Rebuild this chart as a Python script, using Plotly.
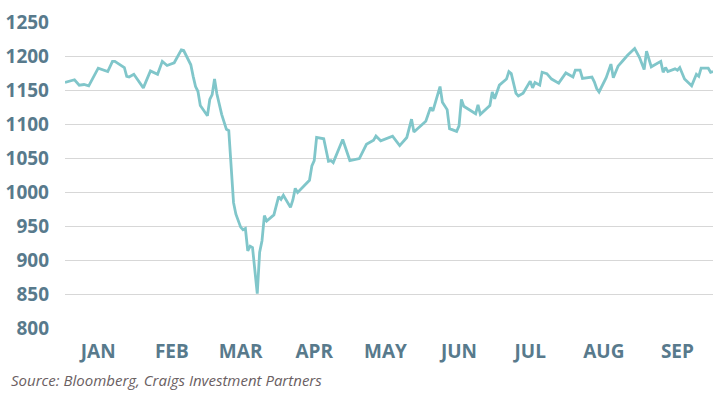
import pandas as pd
import plotly.graph_objects as go

# Day offsets from 1 Jan 2020 and index values
days = [0, 4, 6, 8, 10, 14, 18, 20, 21, 25, 26, 27, 29, 33, 36, 39, 41, 43, 46, 49,
        50, 53, 54, 55, 56, 57, 60, 61, 62, 63, 64, 66, 68, 69, 71, 72, 74, 75, 76, 77,
        78, 79, 81, 82, 83, 84, 85, 88, 90, 91, 92, 95, 96, 97, 98, 103, 104, 105, 106, 109,
        111, 112, 113, 117, 120, 124, 127, 130, 131, 133, 138, 141, 144, 146, 147, 152, 154, 155, 158, 159,
        161, 162, 165, 166, 167, 168, 173, 174, 175, 179, 180, 181, 183, 186, 187, 188, 190, 191, 193, 194,
        196, 197, 198, 200, 201, 203, 205, 208, 211, 214, 215, 217, 218, 222, 223, 224, 225, 228, 230, 231,
        233, 235, 237, 240, 242, 244, 245, 247, 251, 252, 253, 254, 257, 258, 259, 261, 264, 266, 267, 268,
        271, 272, 273]
values = [1162, 1166, 1158, 1159, 1157, 1183, 1178, 1193, 1193, 1184, 1171, 1170, 1174, 1154, 1179, 1174, 1193, 1187, 1191, 1210,
          1209, 1188, 1171, 1156, 1149, 1128, 1113, 1137, 1144, 1167, 1145, 1115, 1093, 1091, 985, 968, 949, 945, 947, 914,
          921, 919, 851, 912, 929, 966, 958, 967, 994, 990, 996, 978, 989, 1006, 1000, 1018, 1039, 1047, 1081, 1079,
          1046, 1047, 1044, 1078, 1047, 1050, 1071, 1077, 1083, 1076, 1083, 1069, 1081, 1108, 1089, 1105, 1125, 1120, 1156, 1133,
          1122, 1094, 1090, 1098, 1137, 1127, 1116, 1129, 1115, 1128, 1148, 1138, 1158, 1167, 1178, 1175, 1146, 1142, 1146, 1152,
          1164, 1154, 1162, 1158, 1177, 1175, 1167, 1161, 1176, 1170, 1180, 1180, 1168, 1170, 1163, 1153, 1148, 1169, 1189, 1169,
          1186, 1194, 1202, 1212, 1199, 1181, 1208, 1185, 1193, 1177, 1184, 1178, 1182, 1180, 1184, 1167, 1157, 1174, 1171, 1183,
          1183, 1177, 1178]

month_ticks = ["2020-01-15", "2020-02-15", "2020-03-15", "2020-04-15", "2020-05-15",
               "2020-06-15", "2020-07-15", "2020-08-15", "2020-09-15"]
month_labels = ["JAN", "FEB", "MAR", "APR", "MAY", "JUN", "JUL", "AUG", "SEP"]
y_ticks = [800, 850, 900, 950, 1000, 1050, 1100, 1150, 1200, 1250]

dates = pd.Timestamp("2020-01-01") + pd.to_timedelta(days, unit="D")

label_color = "#587a8c"

fig = go.Figure()
fig.add_trace(go.Scatter(
    x=dates, y=values, mode="lines",
    line=dict(color="#80c6ca", width=2.8),
    hoverinfo="skip", showlegend=False,
))

fig.update_layout(
    width=720, height=406,
    margin=dict(l=65, r=7, t=22, b=77),
    plot_bgcolor="white", paper_bgcolor="white",
    font=dict(family="Open Sans", color=label_color),
    xaxis=dict(
        range=["2020-01-01", "2020-09-30"],
        tickmode="array", tickvals=month_ticks, ticktext=month_labels,
        showgrid=False, zeroline=False, showline=False,
        ticks="", ticklabelstandoff=9,
        tickfont=dict(family="Open Sans", size=19, color=label_color, weight="bold"),
        automargin=False,
    ),
    yaxis=dict(
        range=[799, 1251],
        tickmode="array", tickvals=y_ticks,
        showgrid=True, gridcolor="#d7d7d7", gridwidth=1.3,
        zeroline=False, showline=False,
        ticks="", ticklabelstandoff=15,
        tickfont=dict(family="Open Sans", size=19, color=label_color, weight="bold"),
        automargin=False,
    ),
    annotations=[dict(
        text="<i>Source: Bloomberg, Craigs Investment Partners</i>",
        xref="paper", yref="paper", x=-0.087, y=-0.205,
        xanchor="left", yanchor="bottom", showarrow=False,
        font=dict(family="Open Sans", size=15, color="#6a6062"),
    )],
)

fig.write_html("out.html")
